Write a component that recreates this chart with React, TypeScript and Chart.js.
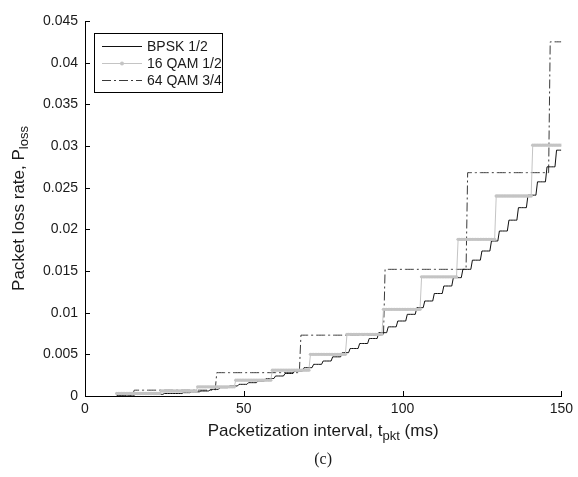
import React, { useEffect, useRef } from 'react';
import { Chart, registerables } from 'chart.js';

Chart.register(...registerables);

// ---- data ----
const seriesNames = ['BPSK 1/2', '16 QAM 1/2', '64 QAM 3/4'];

// BPSK 1/2 : start time (ms) of each step and the loss rate held on it
const bpskStart = [
  10.0, 12.9, 15.9, 18.8, 21.8, 24.7, 27.6, 30.6, 33.5, 36.5,
  39.4, 42.3, 45.3, 48.2, 51.2, 54.1, 57.0, 60.0, 62.9, 65.9,
  68.8, 71.7, 74.7, 77.6, 80.6, 83.5, 86.4, 89.4, 92.3, 95.3,
  98.2, 101.1, 104.1, 107.0, 110.0, 112.9, 115.8, 118.8, 121.7, 124.7,
  127.6, 130.5, 133.5, 136.4, 139.4, 142.3, 145.2, 148.2,
];
const bpskLoss = [
  0.0001, 0.0001, 0.0002, 0.0002, 0.0002, 0.0003, 0.0003, 0.0004, 0.0005, 0.0006,
  0.0008, 0.0010, 0.0012, 0.0014, 0.0016, 0.0018, 0.0021, 0.0024, 0.0027, 0.0030,
  0.0034, 0.0038, 0.0042, 0.0047, 0.0052, 0.0057, 0.0063, 0.0069, 0.0076, 0.0083,
  0.0090, 0.0098, 0.0106, 0.0114, 0.0123, 0.0132, 0.0142, 0.0152, 0.0163, 0.0174,
  0.0186, 0.0198, 0.0211, 0.0226, 0.0241, 0.0257, 0.0275, 0.0295,
];

// 16 QAM 1/2
const qam16Start = [10.0, 23.6, 35.4, 47.2, 59.0, 70.6, 82.3, 94.0, 105.6, 117.3, 129.2, 141.0];
const qam16Loss = [0.0003, 0.0006, 0.0011, 0.0019, 0.0031, 0.0050, 0.0074, 0.0104, 0.0143, 0.0188, 0.0240, 0.0301];

// 64 QAM 3/4
const qam64Start = [10.0, 15.3, 41.4, 67.8, 94.3, 120.5, 146.4];
const qam64Loss = [0.0001, 0.0007, 0.0028, 0.0073, 0.0152, 0.0268, 0.0425];

const xTicks = [0, 50, 100, 150];
const yTicks = [0, 0.005, 0.01, 0.015, 0.02, 0.025, 0.03, 0.035, 0.04, 0.045];
const tEnd = 150;
const sampleStep = 0.5;

// sample a read step function on the simulation grid
function sampleSteps(starts: number[], values: number[]) {
  const pts: { x: number; y: number }[] = [];
  const n = Math.round((tEnd - starts[0]) / sampleStep);
  for (let i = 0; i <= n; i++) {
    const t = starts[0] + i * sampleStep;
    let k = 0;
    while (k + 1 < starts.length && starts[k + 1] <= t + 1e-9) k++;
    pts.push({ x: t, y: values[k] });
  }
  return pts;
}

const FONT = '"Liberation Sans", Arial, sans-serif';
const TEXT = '#1a1a1a';

const styles = [
  { color: '#111111', dash: [] as number[], marker: false },
  { color: '#c4c4c4', dash: [] as number[], marker: true },
  { color: '#3a3a3a', dash: [9, 3, 2, 3], marker: false },
];

function drawSubText(
  ctx: CanvasRenderingContext2D,
  parts: { t: string; sub?: boolean }[],
  size: number,
  subSize: number,
) {
  let total = 0;
  for (const p of parts) {
    ctx.font = `${p.sub ? subSize : size}px ${FONT}`;
    total += ctx.measureText(p.t).width;
  }
  let x = -total / 2;
  for (const p of parts) {
    ctx.font = `${p.sub ? subSize : size}px ${FONT}`;
    ctx.fillText(p.t, x, p.sub ? size * 0.3 : 0);
    x += ctx.measureText(p.t).width;
  }
}

const decorPlugin = {
  id: 'decor',
  afterDraw(chart: any) {
    const { ctx, chartArea, scales } = chart;
    const xs = scales.x;
    const ys = scales.y;
    ctx.save();
    // inner tick marks
    ctx.strokeStyle = '#000';
    ctx.lineWidth = 1;
    ctx.beginPath();
    for (const v of xTicks) {
      const px = Math.round(xs.getPixelForValue(v)) + 0.5;
      ctx.moveTo(px, chartArea.bottom);
      ctx.lineTo(px, chartArea.bottom - 5);
    }
    for (const v of yTicks) {
      const py = Math.round(ys.getPixelForValue(v)) + 0.5;
      ctx.moveTo(chartArea.left, py);
      ctx.lineTo(chartArea.left + 5, py);
    }
    ctx.stroke();

    // axis titles with subscripts
    ctx.fillStyle = TEXT;
    ctx.textBaseline = 'middle';
    ctx.textAlign = 'left';
    const cx = (chartArea.left + chartArea.right) / 2;
    ctx.save();
    ctx.translate(cx, 431);
    drawSubText(ctx, [{ t: 'Packetization interval, t' }, { t: 'pkt', sub: true }, { t: ' (ms)' }], 17, 13);
    ctx.restore();

    const cy = (chartArea.top + chartArea.bottom) / 2;
    ctx.save();
    ctx.translate(19, cy);
    ctx.rotate(-Math.PI / 2);
    drawSubText(ctx, [{ t: 'Packet loss rate, P' }, { t: 'loss', sub: true }], 17, 13);
    ctx.restore();

    // caption
    ctx.font = `16px "Liberation Serif", "Times New Roman", serif`;
    ctx.textAlign = 'center';
    ctx.fillText('(c)', cx, 460);

    // legend
    const lx = 94.5;
    const ly = 33.5;
    const lw = 128;
    const lh = 59;
    ctx.fillStyle = '#fff';
    ctx.fillRect(lx, ly, lw, lh);
    ctx.strokeStyle = '#000';
    ctx.lineWidth = 1;
    ctx.setLineDash([]);
    ctx.strokeRect(lx, ly, lw, lh);
    const rows = [46, 63, 80];
    seriesNames.forEach((name, i) => {
      const st = styles[i];
      const y = rows[i] + 0.5;
      ctx.strokeStyle = st.color;
      ctx.setLineDash(st.dash);
      ctx.beginPath();
      ctx.moveTo(102, y);
      ctx.lineTo(142, y);
      ctx.stroke();
      ctx.setLineDash([]);
      if (st.marker) {
        ctx.fillStyle = st.color;
        ctx.beginPath();
        ctx.arc(122, y, 2, 0, Math.PI * 2);
        ctx.fill();
      }
      ctx.fillStyle = TEXT;
      ctx.font = `14px ${FONT}`;
      ctx.textAlign = 'left';
      ctx.textBaseline = 'middle';
      ctx.fillText(name, 147, rows[i] + 1);
    });
    ctx.restore();
  },
};

export default function App() {
  const ref = useRef<HTMLCanvasElement | null>(null);
  useEffect(() => {
    if (!ref.current) return;
    const datasets = [
      sampleSteps(bpskStart, bpskLoss),
      sampleSteps(qam16Start, qam16Loss),
      sampleSteps(qam64Start, qam64Loss),
    ].map((data, i) => ({
      label: seriesNames[i],
      data,
      borderColor: styles[i].color,
      backgroundColor: styles[i].color,
      borderWidth: 1,
      borderDash: styles[i].dash,
      pointRadius: styles[i].marker ? 1.7 : 0,
      pointBorderWidth: 0,
      pointBackgroundColor: styles[i].color,
      tension: 0,
      fill: false,
    }));
    const chart = new Chart(ref.current, {
      type: 'line',
      data: { datasets: [datasets[1], datasets[0], datasets[2]] },
      options: {
        animation: false,
        responsive: false,
        events: [],
        layout: { padding: { left: 0, right: 13, top: 21, bottom: 0 } },
        plugins: { legend: { display: false }, tooltip: { enabled: false } },
        scales: {
          x: {
            type: 'linear',
            min: 0,
            max: 150,
            afterBuildTicks: (s: any) => { s.ticks = xTicks.map((v) => ({ value: v })); },
            afterFit: (s: any) => { s.height = 477 - 396; },
            grid: { display: false, drawTicks: false },
            border: { display: true, color: '#000', width: 1 },
            ticks: { color: TEXT, font: { family: FONT, size: 14 }, padding: 5, maxRotation: 0 },
          },
          y: {
            type: 'linear',
            min: 0,
            max: 0.045,
            afterBuildTicks: (s: any) => { s.ticks = yTicks.map((v) => ({ value: v })); },
            afterFit: (s: any) => { s.width = 85; },
            grid: { display: false, drawTicks: false },
            border: { display: true, color: '#000', width: 1 },
            ticks: {
              color: TEXT,
              font: { family: FONT, size: 14 },
              padding: 7,
              callback: (v: any) => String(Number(Number(v).toFixed(3))),
            },
          },
        },
      },
      plugins: [decorPlugin],
    });
    return () => chart.destroy();
  }, []);
  return (
    <div style={{ position: 'fixed', left: 0, top: 0, width: 578, height: 477, background: '#fff' }}>
      <canvas ref={ref} width={578} height={477} style={{ display: 'block' }} />
    </div>
  );
}
